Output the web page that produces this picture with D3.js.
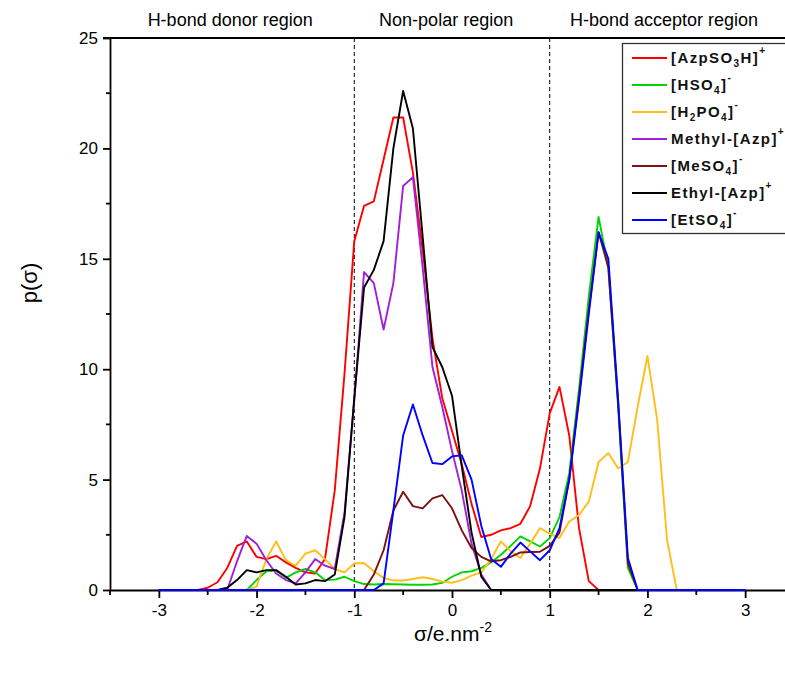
<!DOCTYPE html>
<html>
<head>
<meta charset="utf-8">
<script src="https://cdn.jsdelivr.net/npm/d3@7"></script>
<style>
  body { margin: 0; background: #fff; }
  svg { display: block; font-family: "Liberation Sans", Arial, sans-serif; }
</style>
</head>
<body>
<svg width="785" height="677"></svg>
<script>
// sigma grid (e/nm^2)
const sigma = [-3.0, -2.9, -2.8, -2.7, -2.6, -2.5, -2.4, -2.3, -2.2, -2.1,
  -2.0, -1.9, -1.8, -1.7, -1.6, -1.5, -1.4, -1.3, -1.2, -1.1,
  -1.0, -0.9, -0.8, -0.7, -0.6, -0.5, -0.4, -0.3, -0.2, -0.1,
  0.0, 0.1, 0.2, 0.3, 0.4, 0.5, 0.6, 0.7, 0.8, 0.9,
  1.0, 1.1, 1.2, 1.3, 1.4, 1.5, 1.6, 1.7, 1.8, 1.9,
  2.0, 2.1, 2.2, 2.3, 2.4, 2.5, 2.6, 2.7, 2.8, 2.9, 3.0];

// p(sigma) for each compound
const azpSO3H = [0, 0, 0, 0, 0, 0.1, 0.35, 1.0, 2.0, 2.2,
  1.5, 1.4, 1.55, 1.25, 1.0, 0.8, 0.75, 1.4, 4.5, 9.8,
  15.8, 17.4, 17.6, 19.5, 21.4, 21.4, 18.9, 15.4, 11.4, 8.7,
  7.2, 5.7, 3.9, 2.4, 2.5, 2.7, 2.8, 3.0, 3.8, 5.5,
  8.0, 9.2, 7.0, 2.8, 0.4, 0, 0, 0, 0, 0,
  0, 0, 0, 0, 0, 0, 0, 0, 0, 0, 0];
const hso4 = [0, 0, 0, 0, 0, 0, 0, 0, 0, 0,
  0.45, 0.85, 0.88, 0.55, 0.8, 0.95, 0.8, 0.45, 0.47, 0.6,
  0.4, 0.27, 0.25, 0.27, 0.26, 0.25, 0.24, 0.24, 0.25, 0.32,
  0.6, 0.8, 0.85, 1.0, 1.25, 1.6, 2.0, 2.43, 2.2, 1.97,
  2.35, 3.3, 5.3, 9.1, 13.3, 16.9, 14.6, 8.3, 1.0, 0,
  0, 0, 0, 0, 0, 0, 0, 0, 0, 0, 0];
const h2po4 = [0, 0, 0, 0, 0, 0, 0, 0, 0, 0,
  0.15, 1.4, 2.2, 1.35, 1.1, 1.65, 1.8, 1.4, 0.95, 0.8,
  1.2, 1.22, 0.85, 0.55, 0.43, 0.43, 0.5, 0.58, 0.5, 0.38,
  0.33, 0.45, 0.65, 0.8, 1.4, 2.2, 1.75, 1.45, 2.1, 2.8,
  2.55, 2.35, 3.1, 3.4, 4.0, 5.8, 6.2, 5.5, 5.8, 8.3,
  10.6, 7.7, 2.3, 0, 0, 0, 0, 0, 0, 0, 0];
const methylAzp = [0, 0, 0, 0, 0, 0, 0, 0, 1.3, 2.45,
  2.1, 1.35, 0.75, 0.45, 0.3, 0.8, 1.4, 1.1, 0.95, 3.5,
  8.6, 14.4, 13.9, 11.8, 13.9, 18.3, 18.7, 14.6, 10.1, 8.3,
  6.3, 4.5, 2.1, 0.7, 0, 0, 0, 0, 0, 0,
  0, 0, 0, 0, 0, 0, 0, 0, 0, 0,
  0, 0, 0, 0, 0, 0, 0, 0, 0, 0, 0];
const meso4 = [0, 0, 0, 0, 0, 0, 0, 0, 0, 0,
  0, 0, 0, 0, 0, 0, 0, 0, 0, 0,
  0, 0, 0.7, 1.8, 3.6, 4.45, 3.8, 3.7, 4.15, 4.3,
  3.7, 2.7, 1.9, 1.5, 1.3, 1.35, 1.5, 1.7, 1.72, 1.73,
  2.0, 2.6, 5.0, 8.8, 12.7, 16.2, 14.6, 8.5, 1.2, 0,
  0, 0, 0, 0, 0, 0, 0, 0, 0, 0, 0];
const ethylAzp = [0, 0, 0, 0, 0, 0, 0, 0.1, 0.45, 0.9,
  0.8, 0.9, 0.9, 0.6, 0.25, 0.3, 0.45, 0.4, 0.7, 3.3,
  8.7, 13.7, 14.5, 15.8, 20.0, 22.6, 20.9, 16.0, 11.0, 10.1,
  8.8, 5.6, 2.6, 0.6, 0, 0, 0, 0, 0, 0,
  0, 0, 0, 0, 0, 0, 0, 0, 0, 0,
  0, 0, 0, 0, 0, 0, 0, 0, 0, 0, 0];
const etso4 = [0, 0, 0, 0, 0, 0, 0, 0, 0, 0,
  0, 0, 0, 0, 0, 0, 0, 0, 0, 0,
  0, 0, 0, 0.3, 3.6, 7.0, 8.4, 7.0, 5.75, 5.7,
  6.05, 6.1, 5.0, 2.9, 1.4, 1.05, 1.65, 2.15, 1.75, 1.35,
  1.8, 2.8, 5.0, 8.6, 12.5, 16.2, 15.0, 8.6, 1.45, 0,
  0, 0, 0, 0, 0, 0, 0, 0, 0, 0, 0];

const xTicks = [-3, -2, -1, 0, 1, 2, 3];
const yTicks = [0, 5, 10, 15, 20, 25];
const regionNames = ["H-bond donor region", "Non-polar region", "H-bond acceptor region"];
const regionCenters = [-2.27, -0.06, 2.17];
const regionBounds = [-1, 1];

// legend labels: [text, "sub" | "sup" | undefined]
const series = [
  { name: [["[AzpSO"], ["3", "sub"], ["H]"], ["+", "sup"]], values: azpSO3H, color: "#ff0000" },
  { name: [["[HSO"], ["4", "sub"], ["]"], ["-", "sup"]], values: hso4, color: "#00d400" },
  { name: [["[H"], ["2", "sub"], ["PO"], ["4", "sub"], ["]"], ["-", "sup"]], values: h2po4, color: "#ffbf1a" },
  { name: [["Methyl-[Azp]"], ["+", "sup"]], values: methylAzp, color: "#a21ed8" },
  { name: [["[MeSO"], ["4", "sub"], ["]"], ["-", "sup"]], values: meso4, color: "#7e1010" },
  { name: [["Ethyl-[Azp]"], ["+", "sup"]], values: ethylAzp, color: "#000000" },
  { name: [["[EtSO"], ["4", "sub"], ["]"], ["-", "sup"]], values: etso4, color: "#0000ff" }
];

const svg = d3.select("svg");

const x = d3.scaleLinear().domain([-3.5, 3.5]).range([110, 794]);
const y = d3.scaleLinear().domain([0, 25]).range([590, 38]);

// region separators
svg.selectAll(".sep").data(regionBounds).join("line")
  .attr("x1", d => x(d)).attr("x2", d => x(d))
  .attr("y1", y(25)).attr("y2", y(0))
  .attr("stroke", "#000").attr("stroke-width", 1)
  .attr("stroke-dasharray", "4,3");

// top frame line
svg.append("line")
  .attr("x1", 103).attr("x2", 794)
  .attr("y1", y(25)).attr("y2", y(25))
  .attr("stroke", "#000").attr("stroke-width", 2);

// axes
const xMinor = [-3.5, -2.5, -1.5, -0.5, 0.5, 1.5, 2.5, 3.5];
const yMinor = [2.5, 7.5, 12.5, 17.5, 22.5];

const xAxis = svg.append("g")
  .attr("transform", `translate(0,${y(0)})`)
  .call(d3.axisBottom(x).tickValues(xTicks).tickFormat(d => String(d))
    .tickSize(8).tickSizeOuter(0).tickPadding(6));
xAxis.append("g").selectAll("line").data(xMinor).join("line")
  .attr("x1", d => x(d)).attr("x2", d => x(d))
  .attr("y1", 0).attr("y2", 5).attr("stroke", "#000").attr("stroke-width", 1.8);

const yAxis = svg.append("g")
  .attr("transform", `translate(${x(-3.5)},0)`)
  .call(d3.axisLeft(y).tickValues(yTicks).tickSize(7).tickSizeOuter(0).tickPadding(5));
yAxis.append("g").selectAll("line").data(yMinor).join("line")
  .attr("y1", d => y(d)).attr("y2", d => y(d))
  .attr("x1", 0).attr("x2", -4).attr("stroke", "#000").attr("stroke-width", 1.8);

svg.selectAll(".domain, .tick line").attr("stroke-width", 1.8);
svg.selectAll(".tick text")
  .attr("font-size", 17)
  .attr("font-family", "'Liberation Sans', Arial, sans-serif")
  .attr("fill", "#000");

// curves (drawn over the axis, as in the original)
const line = d3.line()
  .x((d, i) => x(sigma[i]))
  .y(d => y(d));

svg.append("g").selectAll("path").data(series).join("path")
  .attr("d", d => line(d.values))
  .attr("fill", "none")
  .attr("stroke", d => d.color)
  .attr("stroke-width", 1.9)
  .attr("stroke-linejoin", "round");

// axis titles
svg.append("text")
  .attr("transform", `translate(37,283) rotate(-90)`)
  .attr("text-anchor", "middle")
  .attr("font-size", 22)
  .text("p(σ)");

const xt = svg.append("text")
  .attr("x", 453).attr("y", 641)
  .attr("text-anchor", "middle")
  .attr("font-size", 21);
xt.append("tspan").text("σ/e.nm");
xt.append("tspan").attr("font-size", 14).attr("dy", -9).text("-2");

// region labels
svg.selectAll(".region").data(regionNames).join("text")
  .attr("x", (d, i) => x(regionCenters[i]))
  .attr("y", 26)
  .attr("text-anchor", "middle")
  .attr("font-size", 18)
  .text(d => d);

// legend
const legend = svg.append("g");
legend.append("rect")
  .attr("x", 622.5).attr("y", 43.5)
  .attr("width", 175).attr("height", 190)
  .attr("fill", "#fff").attr("stroke", "#333").attr("stroke-width", 1.3);

const rows = legend.selectAll(".row").data(series).join("g")
  .attr("transform", (d, i) => `translate(632,${58 + i * 27})`);
rows.append("line")
  .attr("x1", 0).attr("x2", 35)
  .attr("stroke", d => d.color).attr("stroke-width", 2);
rows.append("text")
  .attr("x", 39).attr("y", 5)
  .attr("font-weight", "bold")
  .attr("font-size", 15)
  .attr("letter-spacing", 1.4)
  .attr("fill", "#111")
  .each(function (d) {
    const t = d3.select(this);
    let shift = 0;
    d.name.forEach(([s, kind]) => {
      const target = kind === "sub" ? 4 : kind === "sup" ? -9 : 0;
      const ts = t.append("tspan").text(s).attr("dy", target - shift);
      if (kind) ts.attr("font-size", 10);
      shift = target;
    });
  });
</script>
</body>
</html>
